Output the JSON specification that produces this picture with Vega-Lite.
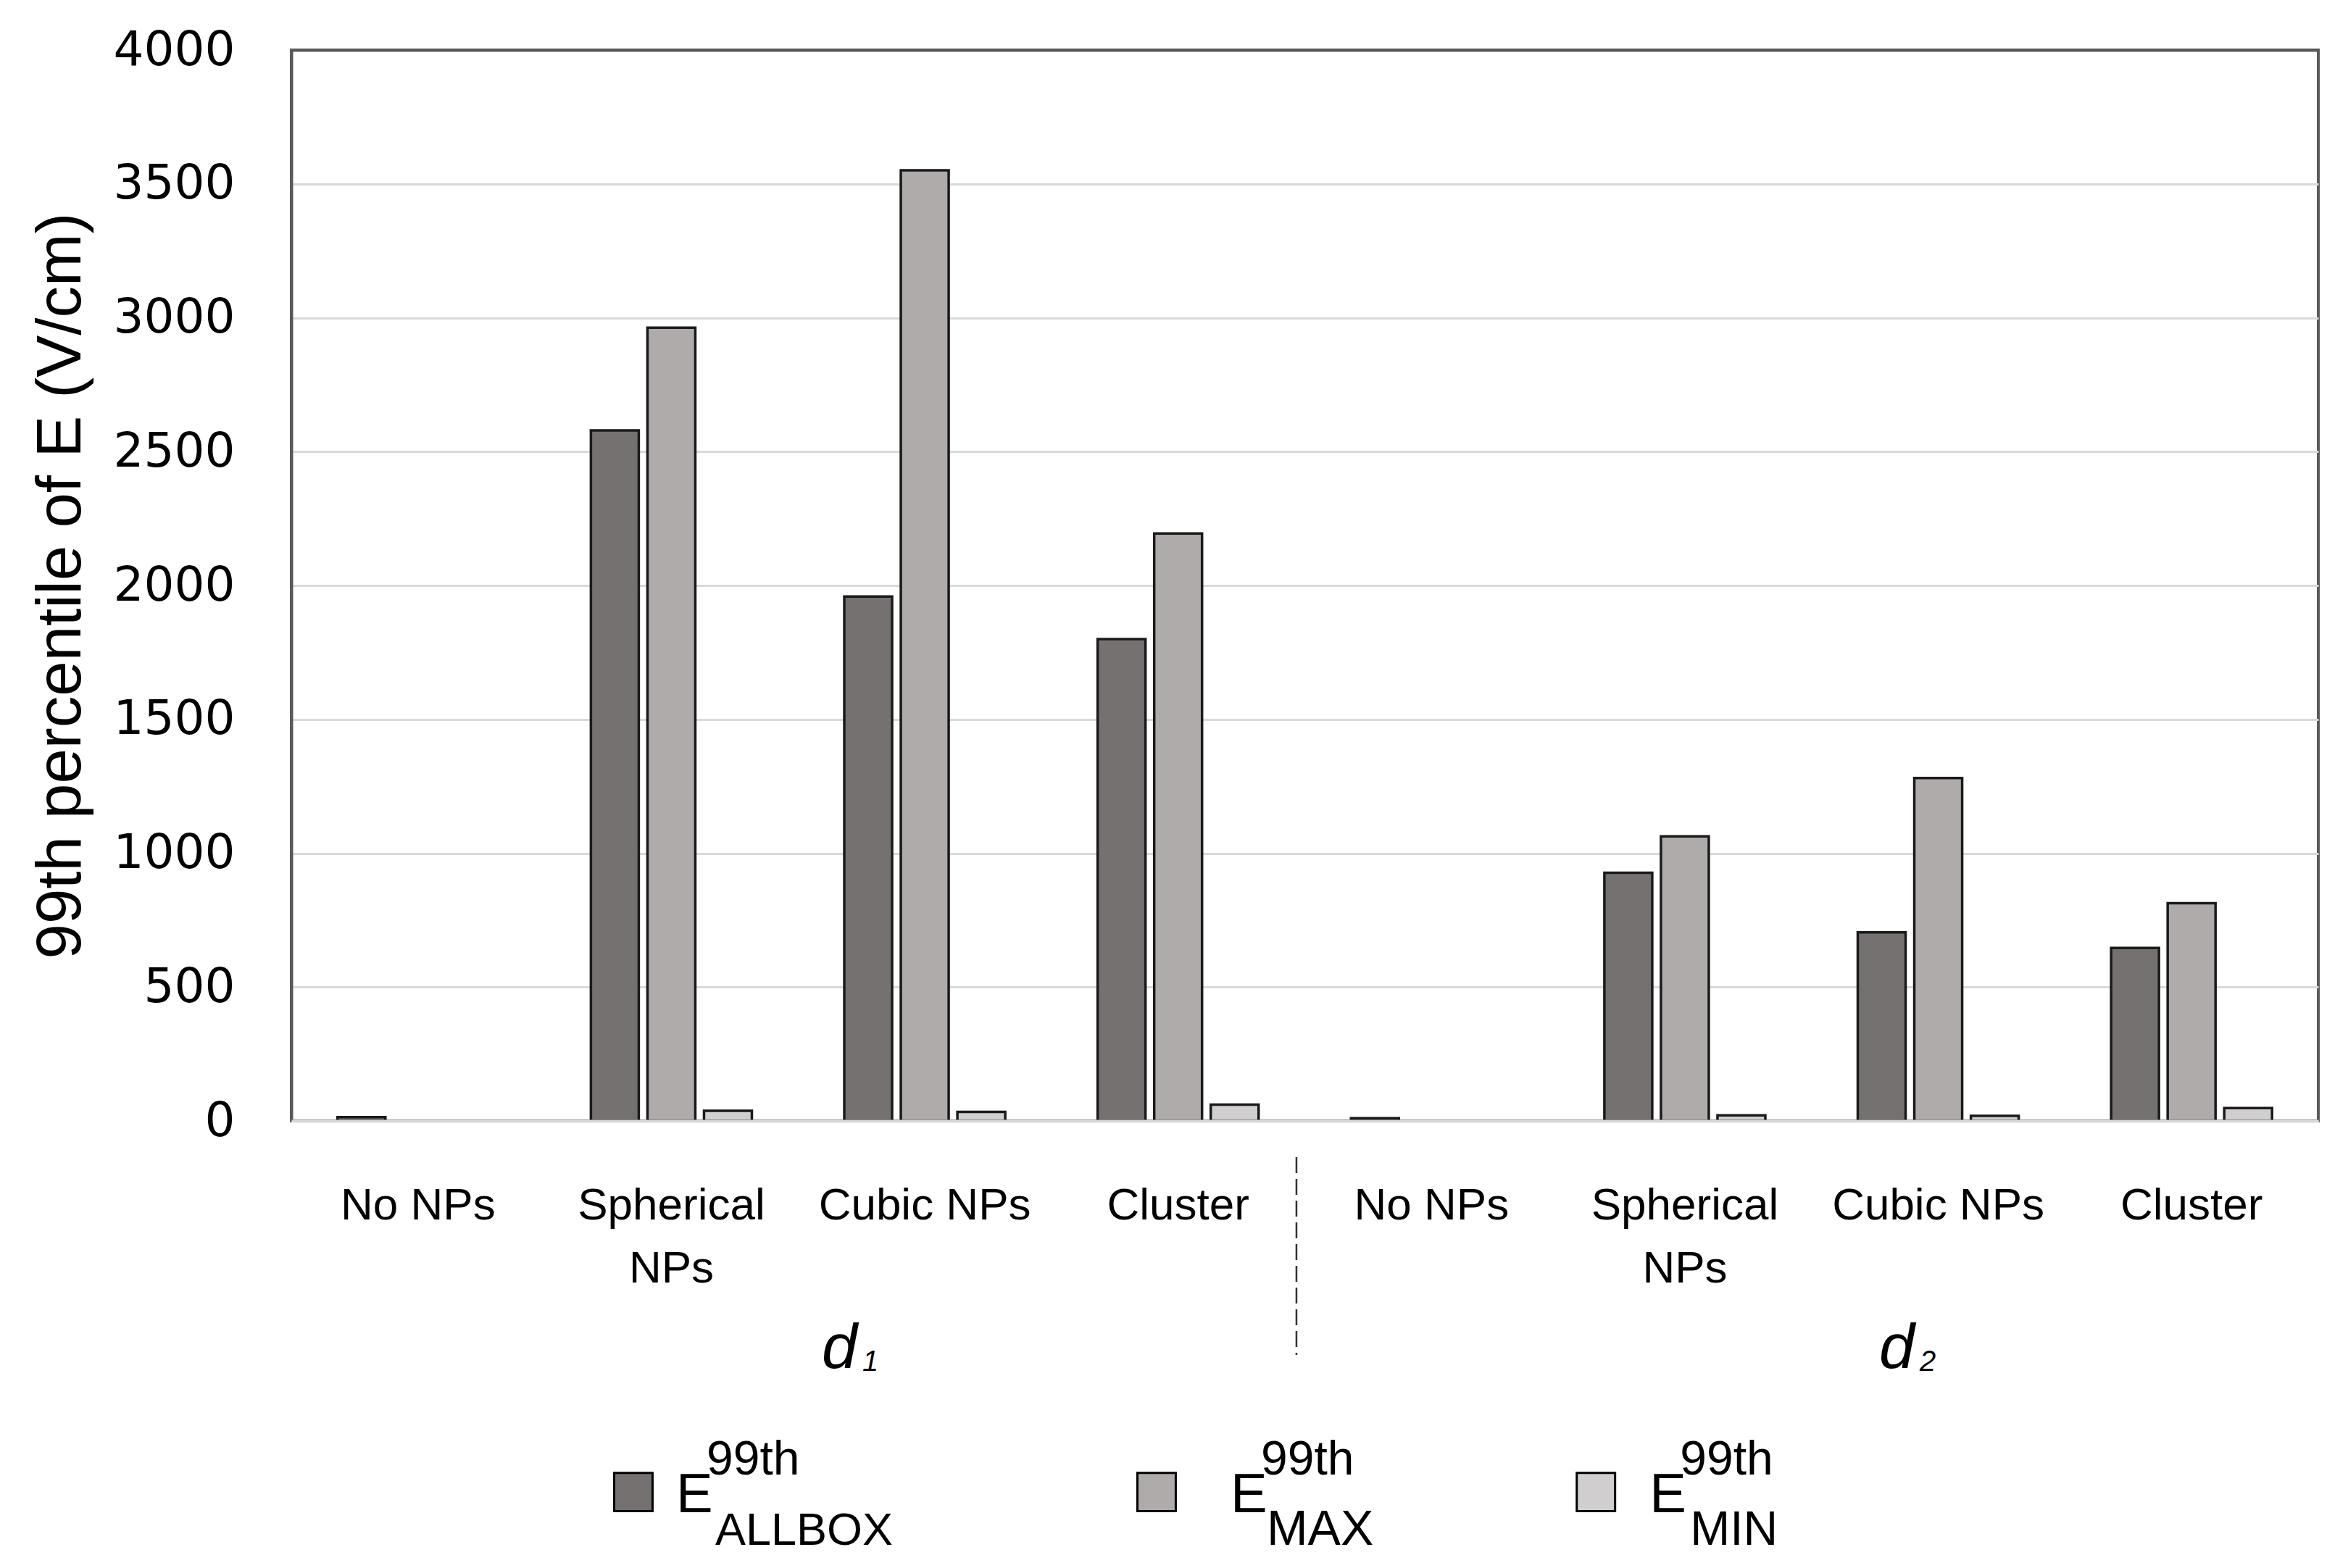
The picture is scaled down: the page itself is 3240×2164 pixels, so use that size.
{
  "width": 2797,
  "height": 1478,
  "autosize": "none",
  "padding": {"left": 402, "top": 69, "right": 41, "bottom": 617},
  "background": "white",
  "config": {
    "view": {"stroke": "#595959", "strokeWidth": 4},
    "font": "Liberation Sans",
    "text": {"color": "#000000"}
  },
  "datasets": {
    "bars": [
      {"condition": "d1|No NPs", "series": "ALLBOX", "value": 14},
      {"condition": "d1|Spherical NPs", "series": "ALLBOX", "value": 2579},
      {"condition": "d1|Spherical NPs", "series": "MAX", "value": 2963},
      {"condition": "d1|Spherical NPs", "series": "MIN", "value": 38},
      {"condition": "d1|Cubic NPs", "series": "ALLBOX", "value": 1959},
      {"condition": "d1|Cubic NPs", "series": "MAX", "value": 3551},
      {"condition": "d1|Cubic NPs", "series": "MIN", "value": 34},
      {"condition": "d1|Cluster", "series": "ALLBOX", "value": 1800},
      {"condition": "d1|Cluster", "series": "MAX", "value": 2194},
      {"condition": "d1|Cluster", "series": "MIN", "value": 61},
      {"condition": "d2|No NPs", "series": "ALLBOX", "value": 10},
      {"condition": "d2|Spherical NPs", "series": "ALLBOX", "value": 927},
      {"condition": "d2|Spherical NPs", "series": "MAX", "value": 1063},
      {"condition": "d2|Spherical NPs", "series": "MIN", "value": 21},
      {"condition": "d2|Cubic NPs", "series": "ALLBOX", "value": 704},
      {"condition": "d2|Cubic NPs", "series": "MAX", "value": 1281},
      {"condition": "d2|Cubic NPs", "series": "MIN", "value": 19},
      {"condition": "d2|Cluster", "series": "ALLBOX", "value": 646},
      {"condition": "d2|Cluster", "series": "MAX", "value": 813},
      {"condition": "d2|Cluster", "series": "MIN", "value": 48}
    ],
    "legend": [
      {"series": "ALLBOX"},
      {"series": "MAX"},
      {"series": "MIN"}
    ],
    "groups": [
      {"group": "d1", "letter": "d", "index": "1"},
      {"group": "d2", "letter": "d", "index": "2"}
    ]
  },
  "data": {"name": "bars"},
  "layer": [
    {
      "mark": {"type": "bar", "stroke": "#1a1a1a", "strokeWidth": 3.5},
      "encoding": {
        "x": {
          "field": "condition",
          "type": "nominal",
          "title": null,
          "scale": {
            "domain": ["d1|No NPs", "d1|Spherical NPs", "d1|Cubic NPs", "d1|Cluster", "d2|No NPs", "d2|Spherical NPs", "d2|Cubic NPs", "d2|Cluster"],
            "paddingInner": 0,
            "paddingOuter": 0
          },
          "axis": {
            "title": null,
            "labelExpr": "split(datum.value, '|')[1] === 'Spherical NPs' ? ['Spherical', 'NPs'] : split(datum.value, '|')[1]",
            "labelAngle": 0,
            "labelLimit": 0,
            "ticks": false,
            "grid": false,
            "domainColor": "#d9d9d9",
            "domainWidth": 4,
            "labelPadding": 86,
            "labelFont": "Liberation Sans",
            "labelFontSize": 62,
            "labelLineHeight": 87,
            "labelColor": "#000000",
            "zindex": 1
          }
        },
        "xOffset": {
          "field": "series",
          "type": "nominal",
          "scale": {"domain": ["ALLBOX", "MAX", "MIN"], "paddingInner": 0.154, "paddingOuter": 0.817}
        },
        "y": {
          "field": "value",
          "type": "quantitative",
          "title": "99th percentile of E (V/cm)",
          "scale": {"domain": [0, 4000], "nice": false},
          "axis": {
            "title": "99th percentile of E (V/cm)",
            "values": [0, 500, 1000, 1500, 2000, 2500, 3000, 3500, 4000],
            "format": "d",
            "labelLimit": 0,
            "ticks": false,
            "labelPadding": 78,
            "labelFont": "DejaVu Sans",
            "labelFontSize": 66,
            "labelColor": "#000000",
            "domainColor": "#595959",
            "domainWidth": 4,
            "gridColor": {"condition": {"test": "datum.value === 4000", "value": "#595959"}, "value": "#d9d9d9"},
            "gridWidth": {"condition": {"test": "datum.value === 4000", "value": 4}, "value": 3},
            "titleFont": "Liberation Sans",
            "titleFontSize": 87,
            "titleFontWeight": "normal",
            "titleColor": "#000000",
            "titleX": -318,
            "titleY": 739,
            "titleBaseline": "middle",
            "titleAngle": 270
          }
        },
        "color": {
          "field": "series",
          "type": "nominal",
          "scale": {"domain": ["ALLBOX", "MAX", "MIN"], "range": ["#767171", "#AFABAB", "#D0CECE"]},
          "legend": null
        }
      }
    },
    {
      "data": {"name": "groups"},
      "transform": [{"filter": "datum.group === 'd1'"}],
      "mark": {"type": "rule", "stroke": "#333333", "strokeWidth": 2.5, "strokeDash": [22, 8]},
      "encoding": {
        "x": {"datum": "d1|Cluster", "bandPosition": 0.967},
        "y": {"datum": -135, "scale": {"domain": [0, 4000], "nice": false}},
        "y2": {"datum": -874}
      }
    },
    {
      "data": {"name": "groups"},
      "transform": [{"filter": "datum.group === 'd1'"}],
      "layer": [
        {
          "mark": {"type": "text", "align": "left", "baseline": "alphabetic", "font": "Liberation Sans", "fontStyle": "italic", "fontSize": 88},
          "encoding": {
            "x": {"datum": "d1|Cubic NPs", "bandPosition": 0.094},
            "y": {"datum": -923, "scale": {"domain": [0, 4000], "nice": false}},
            "text": {"field": "letter"}
          }
        },
        {
          "mark": {"type": "text", "align": "left", "baseline": "alphabetic", "font": "Liberation Sans", "fontStyle": "italic", "fontSize": 40, "dx": 56},
          "encoding": {
            "x": {"datum": "d1|Cubic NPs", "bandPosition": 0.094},
            "y": {"datum": -934, "scale": {"domain": [0, 4000], "nice": false}},
            "text": {"field": "index"}
          }
        }
      ]
    },
    {
      "data": {"name": "groups"},
      "transform": [{"filter": "datum.group === 'd2'"}],
      "layer": [
        {
          "mark": {"type": "text", "align": "left", "baseline": "alphabetic", "font": "Liberation Sans", "fontStyle": "italic", "fontSize": 88},
          "encoding": {
            "x": {"datum": "d2|Cubic NPs", "bandPosition": 0.267},
            "y": {"datum": -923, "scale": {"domain": [0, 4000], "nice": false}},
            "text": {"field": "letter"}
          }
        },
        {
          "mark": {"type": "text", "align": "left", "baseline": "alphabetic", "font": "Liberation Sans", "fontStyle": "italic", "fontSize": 40, "dx": 56},
          "encoding": {
            "x": {"datum": "d2|Cubic NPs", "bandPosition": 0.267},
            "y": {"datum": -934, "scale": {"domain": [0, 4000], "nice": false}},
            "text": {"field": "index"}
          }
        }
      ]
    },
    {
      "data": {"name": "legend"},
      "transform": [{"filter": "datum.series === 'ALLBOX'"}],
      "layer": [
        {
          "mark": {"type": "square", "size": 2800, "opacity": 1, "stroke": "#000000", "strokeWidth": 3},
          "encoding": {
            "x": {"datum": "d1|Spherical NPs", "bandPosition": 0.35},
            "y": {"datum": -1386, "scale": {"domain": [0, 4000], "nice": false}},
            "color": {"field": "series", "type": "nominal", "legend": null}
          }
        },
        {
          "mark": {"type": "text", "align": "left", "baseline": "alphabetic", "fontSize": 76, "dx": 59, "text": "E"},
          "encoding": {
            "x": {"datum": "d1|Spherical NPs", "bandPosition": 0.35},
            "y": {"datum": -1461, "scale": {"domain": [0, 4000], "nice": false}}
          }
        },
        {
          "mark": {"type": "text", "align": "left", "baseline": "alphabetic", "fontSize": 66, "dx": 101, "text": "99th"},
          "encoding": {
            "x": {"datum": "d1|Spherical NPs", "bandPosition": 0.35},
            "y": {"datum": -1321, "scale": {"domain": [0, 4000], "nice": false}}
          }
        },
        {
          "mark": {"type": "text", "align": "left", "baseline": "alphabetic", "fontSize": 63, "dx": 113},
          "encoding": {
            "x": {"datum": "d1|Spherical NPs", "bandPosition": 0.35},
            "y": {"datum": -1583, "scale": {"domain": [0, 4000], "nice": false}},
            "text": {"field": "series"}
          }
        }
      ]
    },
    {
      "data": {"name": "legend"},
      "transform": [{"filter": "datum.series === 'MAX'"}],
      "layer": [
        {
          "mark": {"type": "square", "size": 2800, "opacity": 1, "stroke": "#000000", "strokeWidth": 3},
          "encoding": {
            "x": {"datum": "d1|Cluster", "bandPosition": 0.415},
            "y": {"datum": -1386, "scale": {"domain": [0, 4000], "nice": false}},
            "color": {"field": "series", "type": "nominal", "legend": null}
          }
        },
        {
          "mark": {"type": "text", "align": "left", "baseline": "alphabetic", "fontSize": 76, "dx": 102, "text": "E"},
          "encoding": {
            "x": {"datum": "d1|Cluster", "bandPosition": 0.415},
            "y": {"datum": -1461, "scale": {"domain": [0, 4000], "nice": false}}
          }
        },
        {
          "mark": {"type": "text", "align": "left", "baseline": "alphabetic", "fontSize": 66, "dx": 144, "text": "99th"},
          "encoding": {
            "x": {"datum": "d1|Cluster", "bandPosition": 0.415},
            "y": {"datum": -1321, "scale": {"domain": [0, 4000], "nice": false}}
          }
        },
        {
          "mark": {"type": "text", "align": "left", "baseline": "alphabetic", "fontSize": 68, "dx": 152},
          "encoding": {
            "x": {"datum": "d1|Cluster", "bandPosition": 0.415},
            "y": {"datum": -1583, "scale": {"domain": [0, 4000], "nice": false}},
            "text": {"field": "series"}
          }
        }
      ]
    },
    {
      "data": {"name": "legend"},
      "transform": [{"filter": "datum.series === 'MIN'"}],
      "layer": [
        {
          "mark": {"type": "square", "size": 2800, "opacity": 1, "stroke": "#000000", "strokeWidth": 3},
          "encoding": {
            "x": {"datum": "d2|Spherical NPs", "bandPosition": 0.149},
            "y": {"datum": -1386, "scale": {"domain": [0, 4000], "nice": false}},
            "color": {"field": "series", "type": "nominal", "legend": null}
          }
        },
        {
          "mark": {"type": "text", "align": "left", "baseline": "alphabetic", "fontSize": 76, "dx": 74, "text": "E"},
          "encoding": {
            "x": {"datum": "d2|Spherical NPs", "bandPosition": 0.149},
            "y": {"datum": -1461, "scale": {"domain": [0, 4000], "nice": false}}
          }
        },
        {
          "mark": {"type": "text", "align": "left", "baseline": "alphabetic", "fontSize": 66, "dx": 116, "text": "99th"},
          "encoding": {
            "x": {"datum": "d2|Spherical NPs", "bandPosition": 0.149},
            "y": {"datum": -1321, "scale": {"domain": [0, 4000], "nice": false}}
          }
        },
        {
          "mark": {"type": "text", "align": "left", "baseline": "alphabetic", "fontSize": 66, "dx": 130},
          "encoding": {
            "x": {"datum": "d2|Spherical NPs", "bandPosition": 0.149},
            "y": {"datum": -1583, "scale": {"domain": [0, 4000], "nice": false}},
            "text": {"field": "series"}
          }
        }
      ]
    }
  ]
}
